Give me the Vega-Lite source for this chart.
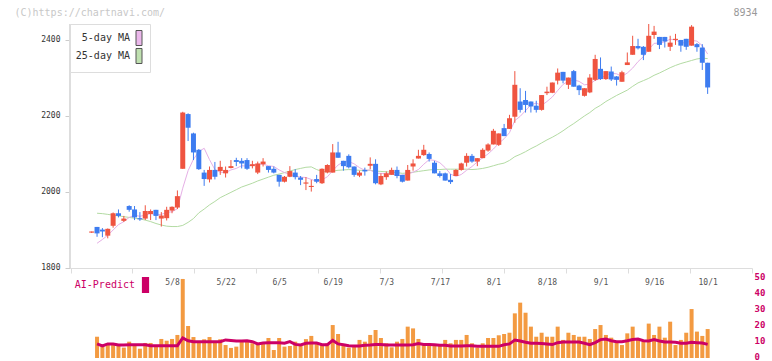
{
"$schema": "https://vega.github.io/schema/vega-lite/v6.json",
"width": 682, "height": 337,
"autosize": {"type": "none"},
"padding": {"left": 70, "top": 24, "right": 20, "bottom": 0},
"background": "#ffffff",
"config": {"view": {"stroke": null}, "font": "DejaVu Sans Mono"},
"data": {"values": [
{"i":0,"o":1893,"h":1896,"l":1892,"c":1896,"ma5":null,"ma25":null,"score":null,"pred":null},
{"i":1,"o":1908,"h":1908,"l":1882,"c":1891,"ma5":1865,"ma25":1944,"score":13.3,"pred":8.8},
{"i":2,"o":1901,"h":1905,"l":1881,"c":1896,"ma5":1875,"ma25":1943,"score":7.5,"pred":7.5},
{"i":3,"o":1885,"h":1904,"l":1878,"c":1903,"ma5":1886,"ma25":1941,"score":9.2,"pred":8.8},
{"i":4,"o":1911,"h":1946,"l":1906,"c":1944,"ma5":1900,"ma25":1939,"score":9.2,"pred":8.8},
{"i":5,"o":1944,"h":1954,"l":1933,"c":1937,"ma5":1914,"ma25":1937,"score":8.5,"pred":8.1},
{"i":6,"o":1924,"h":1937,"l":1921,"c":1930,"ma5":1922,"ma25":1935,"score":6.5,"pred":8.1},
{"i":7,"o":1963,"h":1965,"l":1948,"c":1953,"ma5":1933,"ma25":1933,"score":10.2,"pred":8.3},
{"i":8,"o":1954,"h":1963,"l":1926,"c":1933,"ma5":1939,"ma25":1931,"score":7.7,"pred":8.3},
{"i":9,"o":1931,"h":1947,"l":1924,"c":1928,"ma5":1936,"ma25":1929,"score":5.8,"pred":8.3},
{"i":10,"o":1930,"h":1965,"l":1926,"c":1950,"ma5":1939,"ma25":1926,"score":9.4,"pred":8.3},
{"i":11,"o":1942,"h":1954,"l":1926,"c":1950,"ma5":1943,"ma25":1922,"score":9.4,"pred":7.7},
{"i":12,"o":1953,"h":1953,"l":1926,"c":1937,"ma5":1940,"ma25":1917,"score":7.5,"pred":7.7},
{"i":13,"o":1930,"h":1947,"l":1909,"c":1938,"ma5":1941,"ma25":1913,"score":11.9,"pred":7.7},
{"i":14,"o":1931,"h":1961,"l":1925,"c":1953,"ma5":1946,"ma25":1910,"score":10.8,"pred":7.7},
{"i":15,"o":1951,"h":1962,"l":1944,"c":1961,"ma5":1948,"ma25":1909,"score":11.9,"pred":7.7},
{"i":16,"o":1959,"h":2004,"l":1955,"c":1989,"ma5":1956,"ma25":1909,"score":14.4,"pred":7.7},
{"i":17,"o":2061,"h":2211,"l":2061,"c":2209,"ma5":2010,"ma25":1912,"score":49.4,"pred":12.5},
{"i":18,"o":2205,"h":2207,"l":2134,"c":2169,"ma5":2056,"ma25":1920,"score":20,"pred":10.8},
{"i":19,"o":2154,"h":2156,"l":2084,"c":2104,"ma5":2086,"ma25":1930,"score":13.1,"pred":10.2},
{"i":20,"o":2111,"h":2113,"l":2058,"c":2060,"ma5":2106,"ma25":1945,"score":10.2,"pred":10.2},
{"i":21,"o":2051,"h":2058,"l":2016,"c":2034,"ma5":2115,"ma25":1955,"score":11.7,"pred":10.2},
{"i":22,"o":2033,"h":2067,"l":2025,"c":2058,"ma5":2085,"ma25":1966,"score":13.1,"pred":10.2},
{"i":23,"o":2058,"h":2079,"l":2033,"c":2040,"ma5":2059,"ma25":1975,"score":10,"pred":10.2},
{"i":24,"o":2055,"h":2082,"l":2045,"c":2066,"ma5":2052,"ma25":1985,"score":11.7,"pred":10.2},
{"i":25,"o":2049,"h":2067,"l":2038,"c":2058,"ma5":2051,"ma25":1992,"score":8.1,"pred":11.3},
{"i":26,"o":2063,"h":2084,"l":2062,"c":2068,"ma5":2058,"ma25":1999,"score":6.3,"pred":11.0},
{"i":27,"o":2084,"h":2090,"l":2068,"c":2079,"ma5":2062,"ma25":2006,"score":7.1,"pred":10.6},
{"i":28,"o":2082,"h":2089,"l":2062,"c":2075,"ma5":2069,"ma25":2013,"score":10,"pred":10.6},
{"i":29,"o":2084,"h":2089,"l":2058,"c":2061,"ma5":2068,"ma25":2018,"score":10.2,"pred":10.8},
{"i":30,"o":2068,"h":2082,"l":2062,"c":2073,"ma5":2071,"ma25":2023,"score":9.2,"pred":10.2},
{"i":31,"o":2051,"h":2080,"l":2047,"c":2075,"ma5":2073,"ma25":2029,"score":9.2,"pred":8.8},
{"i":32,"o":2073,"h":2089,"l":2067,"c":2080,"ma5":2073,"ma25":2034,"score":9.2,"pred":9.4},
{"i":33,"o":2068,"h":2068,"l":2051,"c":2058,"ma5":2069,"ma25":2039,"score":12.5,"pred":9.6},
{"i":34,"o":2061,"h":2067,"l":2049,"c":2051,"ma5":2067,"ma25":2044,"score":5,"pred":9.6},
{"i":35,"o":2045,"h":2045,"l":2014,"c":2027,"ma5":2058,"ma25":2047,"score":12.5,"pred":9.6},
{"i":36,"o":2027,"h":2042,"l":2025,"c":2040,"ma5":2051,"ma25":2051,"score":7.1,"pred":9.2},
{"i":37,"o":2040,"h":2068,"l":2039,"c":2055,"ma5":2046,"ma25":2055,"score":7.5,"pred":10.2},
{"i":38,"o":2051,"h":2060,"l":2033,"c":2039,"ma5":2042,"ma25":2059,"score":10.2,"pred":8.5},
{"i":39,"o":2038,"h":2042,"l":2018,"c":2032,"ma5":2039,"ma25":2062,"score":7.6,"pred":8.2},
{"i":40,"o":2022,"h":2039,"l":2005,"c":2025,"ma5":2038,"ma25":2065,"score":11.8,"pred":9.2},
{"i":41,"o":2013,"h":2032,"l":2001,"c":2016,"ma5":2033,"ma25":2066,"score":13.8,"pred":9.3},
{"i":42,"o":2034,"h":2045,"l":2023,"c":2027,"ma5":2028,"ma25":2059,"score":9.7,"pred":9.3},
{"i":43,"o":2023,"h":2062,"l":2021,"c":2061,"ma5":2032,"ma25":2054,"score":8.5,"pred":8.3},
{"i":44,"o":2051,"h":2073,"l":2049,"c":2071,"ma5":2040,"ma25":2053,"score":9.2,"pred":8.3},
{"i":45,"o":2051,"h":2126,"l":2051,"c":2104,"ma5":2056,"ma25":2055,"score":20.6,"pred":11.0},
{"i":46,"o":2104,"h":2132,"l":2090,"c":2090,"ma5":2071,"ma25":2057,"score":15,"pred":8.8},
{"i":47,"o":2082,"h":2082,"l":2056,"c":2068,"ma5":2079,"ma25":2058,"score":7.5,"pred":8.3},
{"i":48,"o":2095,"h":2099,"l":2062,"c":2065,"ma5":2080,"ma25":2059,"score":6.5,"pred":7.7},
{"i":49,"o":2067,"h":2067,"l":2040,"c":2045,"ma5":2074,"ma25":2058,"score":7.1,"pred":7.5},
{"i":50,"o":2043,"h":2056,"l":2039,"c":2051,"ma5":2064,"ma25":2057,"score":11.3,"pred":7.5},
{"i":51,"o":2058,"h":2064,"l":2043,"c":2054,"ma5":2057,"ma25":2057,"score":10.2,"pred":7.9},
{"i":52,"o":2069,"h":2091,"l":2060,"c":2074,"ma5":2058,"ma25":2057,"score":14.4,"pred":8.1},
{"i":53,"o":2074,"h":2086,"l":2020,"c":2023,"ma5":2049,"ma25":2055,"score":17.5,"pred":8.5},
{"i":54,"o":2020,"h":2049,"l":2018,"c":2042,"ma5":2049,"ma25":2054,"score":12.5,"pred":8.5},
{"i":55,"o":2039,"h":2054,"l":2032,"c":2049,"ma5":2048,"ma25":2053,"score":9.2,"pred":8.1},
{"i":56,"o":2045,"h":2064,"l":2045,"c":2058,"ma5":2049,"ma25":2052,"score":6.7,"pred":8.1},
{"i":57,"o":2058,"h":2067,"l":2036,"c":2042,"ma5":2043,"ma25":2051,"score":10.2,"pred":8.1},
{"i":58,"o":2045,"h":2045,"l":2025,"c":2027,"ma5":2044,"ma25":2049,"score":11.9,"pred":8.1},
{"i":59,"o":2030,"h":2071,"l":2030,"c":2058,"ma5":2047,"ma25":2050,"score":19.6,"pred":8.1},
{"i":60,"o":2067,"h":2086,"l":2056,"c":2075,"ma5":2052,"ma25":2052,"score":18.5,"pred":8.3},
{"i":61,"o":2088,"h":2111,"l":2088,"c":2095,"ma5":2059,"ma25":2054,"score":11.9,"pred":9.0},
{"i":62,"o":2097,"h":2124,"l":2095,"c":2111,"ma5":2073,"ma25":2056,"score":9.2,"pred":8.5},
{"i":63,"o":2100,"h":2104,"l":2080,"c":2087,"ma5":2085,"ma25":2058,"score":9.2,"pred":8.5},
{"i":64,"o":2077,"h":2082,"l":2049,"c":2049,"ma5":2083,"ma25":2059,"score":7.5,"pred":8.3},
{"i":65,"o":2049,"h":2055,"l":2038,"c":2042,"ma5":2077,"ma25":2059,"score":7.5,"pred":7.9},
{"i":66,"o":2049,"h":2051,"l":2030,"c":2030,"ma5":2064,"ma25":2060,"score":11.3,"pred":7.9},
{"i":67,"o":2032,"h":2047,"l":2021,"c":2026,"ma5":2047,"ma25":2060,"score":9.2,"pred":7.5},
{"i":68,"o":2042,"h":2060,"l":2042,"c":2058,"ma5":2041,"ma25":2060,"score":11.3,"pred":7.5},
{"i":69,"o":2058,"h":2077,"l":2056,"c":2075,"ma5":2046,"ma25":2060,"score":11.3,"pred":7.5},
{"i":70,"o":2077,"h":2102,"l":2067,"c":2095,"ma5":2057,"ma25":2060,"score":14.4,"pred":7.7},
{"i":71,"o":2095,"h":2100,"l":2077,"c":2080,"ma5":2067,"ma25":2059,"score":9.2,"pred":7.7},
{"i":72,"o":2080,"h":2089,"l":2068,"c":2089,"ma5":2079,"ma25":2060,"score":6.5,"pred":7.3},
{"i":73,"o":2089,"h":2115,"l":2089,"c":2111,"ma5":2090,"ma25":2062,"score":9.2,"pred":7.3},
{"i":74,"o":2109,"h":2128,"l":2106,"c":2125,"ma5":2100,"ma25":2065,"score":12.5,"pred":7.3},
{"i":75,"o":2125,"h":2166,"l":2125,"c":2161,"ma5":2113,"ma25":2069,"score":12.5,"pred":7.3},
{"i":76,"o":2124,"h":2154,"l":2121,"c":2154,"ma5":2128,"ma25":2073,"score":14.2,"pred":7.3},
{"i":77,"o":2168,"h":2179,"l":2147,"c":2147,"ma5":2140,"ma25":2076,"score":15,"pred":8.3},
{"i":78,"o":2166,"h":2203,"l":2166,"c":2194,"ma5":2156,"ma25":2083,"score":15.8,"pred":8.8},
{"i":79,"o":2198,"h":2318,"l":2182,"c":2282,"ma5":2188,"ma25":2093,"score":27.9,"pred":11.2},
{"i":80,"o":2238,"h":2273,"l":2209,"c":2216,"ma5":2199,"ma25":2099,"score":34.6,"pred":10.6},
{"i":81,"o":2242,"h":2266,"l":2209,"c":2229,"ma5":2214,"ma25":2106,"score":28.3,"pred":9.8},
{"i":82,"o":2238,"h":2238,"l":2209,"c":2225,"ma5":2229,"ma25":2114,"score":19.6,"pred":9.2},
{"i":83,"o":2227,"h":2240,"l":2209,"c":2216,"ma5":2234,"ma25":2121,"score":13.3,"pred":9.2},
{"i":84,"o":2216,"h":2255,"l":2214,"c":2255,"ma5":2228,"ma25":2129,"score":15.8,"pred":9.1},
{"i":85,"o":2260,"h":2277,"l":2255,"c":2264,"ma5":2238,"ma25":2137,"score":13.3,"pred":8.8},
{"i":86,"o":2261,"h":2288,"l":2260,"c":2288,"ma5":2250,"ma25":2144,"score":13.3,"pred":8.4},
{"i":87,"o":2293,"h":2325,"l":2283,"c":2314,"ma5":2267,"ma25":2152,"score":19.6,"pred":9.6},
{"i":88,"o":2316,"h":2316,"l":2286,"c":2293,"ma5":2283,"ma25":2161,"score":11.3,"pred":10.0},
{"i":89,"o":2282,"h":2301,"l":2271,"c":2301,"ma5":2292,"ma25":2171,"score":15.8,"pred":10.0},
{"i":90,"o":2318,"h":2321,"l":2277,"c":2277,"ma5":2295,"ma25":2180,"score":14.4,"pred":10.0},
{"i":91,"o":2280,"h":2282,"l":2255,"c":2268,"ma5":2291,"ma25":2190,"score":13.3,"pred":10.0},
{"i":92,"o":2253,"h":2273,"l":2251,"c":2273,"ma5":2282,"ma25":2200,"score":13.3,"pred":9.2},
{"i":93,"o":2262,"h":2310,"l":2260,"c":2301,"ma5":2284,"ma25":2209,"score":11.9,"pred":8.3},
{"i":94,"o":2295,"h":2361,"l":2292,"c":2350,"ma5":2294,"ma25":2220,"score":18.1,"pred":9.6},
{"i":95,"o":2324,"h":2354,"l":2295,"c":2297,"ma5":2298,"ma25":2228,"score":20.6,"pred":11.5},
{"i":96,"o":2297,"h":2318,"l":2295,"c":2318,"ma5":2308,"ma25":2238,"score":14.4,"pred":11.9},
{"i":97,"o":2317,"h":2330,"l":2292,"c":2296,"ma5":2312,"ma25":2246,"score":12.7,"pred":10.8},
{"i":98,"o":2304,"h":2305,"l":2280,"c":2295,"ma5":2311,"ma25":2254,"score":10.2,"pred":10.2},
{"i":99,"o":2290,"h":2319,"l":2290,"c":2315,"ma5":2304,"ma25":2261,"score":8.1,"pred":10.2},
{"i":100,"o":2334,"h":2367,"l":2334,"c":2341,"ma5":2313,"ma25":2268,"score":15.4,"pred":10.8},
{"i":101,"o":2361,"h":2411,"l":2361,"c":2384,"ma5":2326,"ma25":2278,"score":19.6,"pred":11.5},
{"i":102,"o":2384,"h":2403,"l":2375,"c":2378,"ma5":2343,"ma25":2287,"score":11.3,"pred":11.9},
{"i":103,"o":2382,"h":2384,"l":2347,"c":2361,"ma5":2356,"ma25":2293,"score":10.2,"pred":10.8},
{"i":104,"o":2369,"h":2442,"l":2369,"c":2411,"ma5":2375,"ma25":2299,"score":21.5,"pred":10.6},
{"i":105,"o":2413,"h":2437,"l":2403,"c":2422,"ma5":2391,"ma25":2307,"score":14.4,"pred":11.5},
{"i":106,"o":2408,"h":2408,"l":2376,"c":2387,"ma5":2392,"ma25":2313,"score":19.6,"pred":10.6},
{"i":107,"o":2408,"h":2408,"l":2380,"c":2396,"ma5":2395,"ma25":2320,"score":12.7,"pred":10.0},
{"i":108,"o":2382,"h":2411,"l":2371,"c":2393,"ma5":2402,"ma25":2327,"score":22.7,"pred":10.0},
{"i":109,"o":2400,"h":2416,"l":2387,"c":2403,"ma5":2400,"ma25":2333,"score":8.1,"pred":9.8},
{"i":110,"o":2400,"h":2400,"l":2369,"c":2385,"ma5":2393,"ma25":2338,"score":11.3,"pred":9.2},
{"i":111,"o":2403,"h":2403,"l":2374,"c":2382,"ma5":2392,"ma25":2342,"score":15.8,"pred":9.2},
{"i":112,"o":2385,"h":2439,"l":2385,"c":2435,"ma5":2399,"ma25":2346,"score":30.6,"pred":9.8},
{"i":113,"o":2389,"h":2392,"l":2369,"c":2381,"ma5":2397,"ma25":2350,"score":16.5,"pred":9.6},
{"i":114,"o":2380,"h":2389,"l":2321,"c":2340,"ma5":2385,"ma25":2352,"score":13.8,"pred":9.4},
{"i":115,"o":2340,"h":2340,"l":2258,"c":2275,"ma5":2363,"ma25":2351,"score":18.1,"pred":8.5}
]},
"resolve": {"scale": {"y": "independent"}, "axis": {"x": "independent", "y": "independent"}},
"layer": [
{
 "encoding": {"x": {"field": "i", "type": "quantitative", "scale": {"domain": [-4.05, 123.28], "nice": false, "zero": false, "padding": 0},
   "axis": {"orient": "bottom", "offset": -93, "values": [-3.86, 7.53, 19.1, 30.68, 42.25, 53.83, 65.4, 76.98, 88.56, 100.13, 111.71, 123.27], "labels": false, "title": null, "grid": false, "domainColor": "#dddddd", "tickColor": "#dddddd", "tickSize": 5}}},
 "layer": [
  {"mark": {"type": "rule", "color": "#dddddd", "strokeWidth": 1},
   "encoding": {"x": {"datum": -4.05},
     "y": {"datum": 1800, "type": "quantitative", "scale": {"domain": [1555.2, 2442], "nice": false, "zero": false},
       "axis": {"orient": "left", "values": [1800, 2000, 2200, 2400], "format": "d", "domain": false, "grid": false, "tickColor": "#cccccc", "tickSize": 5, "labelPadding": 5,
         "labelFont": "DejaVu Sans Mono", "labelFontSize": 8, "labelColor": "#333333",
         "title": "(C)https://chartnavi.com/", "titleAngle": 0, "titleX": -56, "titleY": -11.5, "titleAlign": "left", "titleBaseline": "middle",
         "titleFont": "DejaVu Sans Mono", "titleFontSize": 10, "titleFontWeight": "normal", "titleColor": "#c8c8c8"}},
     "y2": {"datum": 2442}}},
  {"mark": {"type": "line", "strokeWidth": 1, "color": "#b3dba3"},
   "encoding": {"y": {"field": "ma25", "type": "quantitative"}}},
  {"mark": {"type": "line", "strokeWidth": 1, "color": "#e6b0e6"},
   "encoding": {"y": {"field": "ma5", "type": "quantitative"}}},
  {"mark": {"type": "rule", "strokeWidth": 1},
   "encoding": {"y": {"field": "l", "type": "quantitative"}, "y2": {"field": "h"},
     "color": {"condition": {"test": "datum.c >= datum.o", "value": "#ef5440"}, "value": "#3d7cf0"}}},
  {"mark": {"type": "bar", "size": 5},
   "encoding": {"y": {"field": "o", "type": "quantitative"}, "y2": {"field": "c"},
     "color": {"condition": {"test": "datum.c >= datum.o", "value": "#ef5440"}, "value": "#3d7cf0"}}},
  {"transform": [{"filter": "datum.i < 0"}],
   "mark": {"type": "square", "filled": true, "opacity": 1, "stroke": "#555555", "strokeWidth": 1},
   "encoding": {"y": {"field": "ma5", "type": "quantitative"},
     "fill": {"datum": "5-day MA", "scale": {"domain": ["5-day MA", "25-day MA"], "range": ["#ebb8eb", "#bfe0b0"]},
       "legend": {"orient": "none", "legendX": 0, "legendY": 0, "title": null, "fillColor": "#ffffff", "strokeColor": "#dddddd", "padding": 6, "rowPadding": -3.5,
         "symbolType": "M-0.4,-1H0.4V1H-0.4Z", "symbolSize": 225, "symbolStrokeWidth": 1, "symbolStrokeColor": "#555555", "symbolOpacity": 1,
         "labelAlign": "right", "labelOffset": -17, "symbolOffset": 55,
         "labelFont": "DejaVu Sans Mono", "labelFontSize": 10, "labelColor": "#333333"}}}},
  {"transform": [{"filter": "datum.i < 0"}],
   "mark": {"type": "square", "filled": true, "opacity": 1, "stroke": "#555555", "strokeWidth": 1},
   "encoding": {"y": {"field": "ma25", "type": "quantitative"},
     "fill": {"datum": "25-day MA"}}}
 ]
},
{
 "encoding": {"x": {"field": "i", "type": "quantitative", "scale": {"domain": [-4.05, 123.28], "nice": false, "zero": false, "padding": 0},
   "axis": {"orient": "bottom", "offset": -79, "values": [15, 25, 35, 45, 55, 65, 75, 85, 95, 105, 115],
     "labelExpr": "['5/8','5/22','6/5','6/19','7/3','7/17','8/1','8/18','9/1','9/16','10/1'][round((datum.value-15)/10)]",
     "domain": false, "ticks": false, "tickSize": 0, "labelPadding": 0, "labelBaseline": "middle", "grid": false, "title": null,
     "labelFont": "DejaVu Sans Mono", "labelFontSize": 8, "labelColor": "#555555"}}},
 "layer": [
  {"mark": {"type": "bar", "size": 4, "color": "#f39a41"},
   "encoding": {"y": {"field": "score", "type": "quantitative", "scale": {"domain": [-1.875, 208.75], "nice": false},
       "axis": {"orient": "right", "values": [0, 10, 20, 30, 40, 50], "domain": false, "ticks": false, "tickSize": 0, "labelPadding": 2, "labelOffset": -1.5, "grid": false,
         "labelFont": "DejaVu Sans Mono", "labelFontSize": 9, "labelFontWeight": "bold", "labelColor": "#cc0066",
         "title": "8934", "titleAngle": 0, "titleX": 5, "titleY": -12, "titleAlign": "right", "titleBaseline": "middle",
         "titleFont": "DejaVu Sans Mono", "titleFontSize": 10, "titleFontWeight": "normal", "titleColor": "#999999"}},
     "y2": {"datum": 0}}},
  {"mark": {"type": "line", "strokeWidth": 3, "color": "#cc0066"},
   "encoding": {"y": {"field": "pred", "type": "quantitative"}}},
  {"transform": [{"filter": "datum.i < 0"}],
   "mark": {"type": "square", "filled": true, "opacity": 1, "color": "#cc0066"},
   "encoding": {"y": {"field": "pred", "type": "quantitative"},
     "stroke": {"datum": "AI-Predict", "scale": {"range": ["#cc0066"]},
       "legend": {"orient": "none", "legendX": 0, "legendY": 253, "title": null, "padding": 0,
         "symbolType": "M-0.45,-1H0.45V1H-0.45Z", "symbolSize": 256, "symbolStrokeWidth": 0, "symbolOpacity": 1,
         "labelAlign": "right", "labelOffset": -18.5, "symbolOffset": 67.5,
         "labelFont": "DejaVu Sans Mono", "labelFontSize": 10, "labelColor": "#cc0066"}}}}
 ]
}
]
}
